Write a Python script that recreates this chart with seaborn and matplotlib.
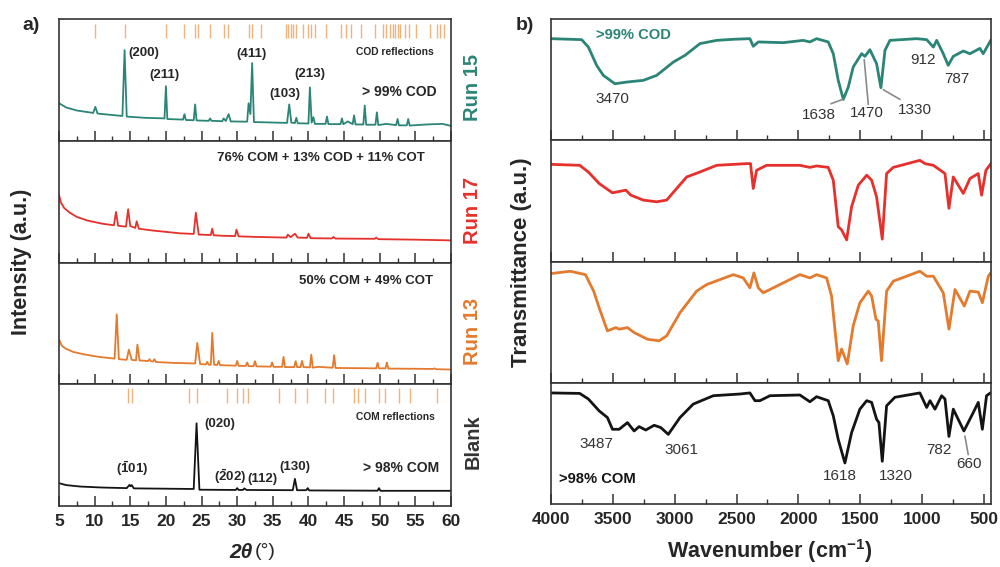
import numpy as np
import pandas as pd
import matplotlib
matplotlib.use("Agg")
import matplotlib.pyplot as plt
import seaborn as sns

# XRD patterns (2theta, intensity in % of panel height)
run15_tt = [5.0, 6.0, 7.5, 9.8, 10.1, 10.4, 13.0, 13.9, 14.2, 14.5, 17.0, 19.8, 20.0, 20.2,
            22.4, 22.6, 22.8, 23.9, 24.1, 24.3, 26.0, 26.2, 26.4, 27.9, 28.1, 28.4, 28.8, 29.1,
            31.4, 31.6, 31.85, 32.1, 32.35, 37.0, 37.3, 37.6, 38.1, 38.3, 38.5, 40.0, 40.2, 40.45,
            40.7, 40.9, 42.4, 42.6, 42.8, 44.5, 44.7, 44.9, 45.5, 46.2, 46.4, 46.6, 47.7, 47.9,
            48.1, 49.4, 49.6, 49.8, 50.9, 52.3, 52.5, 52.7, 53.8, 54.0, 54.2, 56.5, 58.8, 60.0]
run15_int = [31, 27.5, 25, 23, 28, 22.5, 21, 20.5, 74.6, 20, 19, 18.5, 45, 18,
             17.5, 22, 17.2, 17, 30, 16.8, 16.5, 18.5, 16.5, 16.2, 18.5, 16.4, 22, 16,
             15.8, 31, 22, 64, 15.5, 14.8, 30, 15, 14.7, 19, 14.5, 14.3, 44, 15,
             19.5, 14, 14, 20, 13.8, 13.8, 18.5, 13.7, 16, 13.8, 21, 13.5, 13.5, 29,
             13.3, 13.3, 23.5, 13, 14, 13, 18, 12.8, 12.8, 18, 12.6, 13.5, 14, 12.3]

run17_tt = [5.0, 5.3, 5.7, 6.5, 7.5, 9.0, 11.0, 12.7, 13.0, 13.3, 14.4, 14.7, 15.0, 15.7, 15.9,
            16.2, 18.0, 20.0, 22.0, 23.9, 24.2, 24.6, 26.3, 26.5, 26.7, 28.0, 29.7, 29.9, 30.2,
            33.0, 36.9, 37.1, 37.5, 38.1, 38.5, 39.8, 40.0, 40.3, 43.3, 43.5, 43.8, 49.3, 49.5,
            49.8, 55.0, 60.0]
run17_int = [55.4, 49, 45, 41, 37.5, 34.5, 32, 30.6, 41.6, 30.2, 29.5, 43.8, 30, 28.5, 33.9,
             27.8, 26.4, 25.2, 24, 23.5, 41, 23, 22.6, 27.8, 22.4, 22, 21.7, 27, 21.5,
             21, 20.5, 22.9, 20.8, 23.7, 20.5, 20.3, 23.7, 20, 19.8, 21, 19.7, 19.5, 20.5,
             19.2, 18.8, 18.2]

run13_tt = [5.0, 5.4, 6.0, 7.0, 8.5, 10.5, 12.8, 13.1, 13.4, 14.5, 14.8, 15.2, 15.8, 16.0, 16.3,
            17.5, 17.7, 17.9, 18.2, 18.4, 18.6, 21.0, 24.1, 24.4, 24.8, 25.6, 25.8, 26.0, 26.3,
            26.5, 26.75, 27.2, 27.4, 27.6, 29.8, 30.0, 30.2, 31.2, 31.4, 31.6, 32.3, 32.5, 32.7,
            34.7, 34.9, 35.1, 36.3, 36.5, 36.7, 38.0, 38.2, 38.4, 38.9, 39.1, 39.3, 40.2, 40.4,
            40.6, 41.4, 43.4, 43.6, 43.8, 49.5, 49.7, 49.9, 50.8, 51.0, 51.2, 57.5, 57.7, 57.9, 60.0]
run13_int = [36.6, 31.5, 29, 26.5, 24.5, 22.5, 21, 57.4, 20.5, 20, 28.4, 20, 19.5, 32.5, 19.5,
             19, 20.5, 18.8, 18.6, 20.5, 18.2, 17.5, 17, 33.9, 16.5, 16.2, 18.3, 16, 16,
             42.1, 16, 15.8, 19.1, 15.6, 15.2, 19.1, 15, 15, 17.8, 14.8, 14.8, 18.9, 14.6,
             14.4, 17.8, 14.2, 14.2, 22.4, 14, 14, 18.9, 14, 14, 19.1, 14, 13.8, 24.3,
             13.6, 14.2, 13.5, 23.8, 13.3, 13, 17.5, 13, 13, 17.8, 12.8, 12.5, 13, 12.3, 12]

blank_tt = [5.0, 6.0, 8.0, 11.0, 14.5, 14.9, 15.05, 15.2, 15.5, 23.9, 24.3, 24.7, 29.8, 30.0,
            30.2, 30.8, 31.0, 31.3, 37.8, 38.1, 38.4, 39.7, 39.9, 40.1, 49.7, 49.9, 50.1, 60.0]
blank_int = [18.6, 17, 15.8, 15, 14.5, 17.2, 16, 17, 14.3, 13.8, 67.8, 13.2, 13, 14.5,
             13, 13, 14.3, 13, 12.8, 22.1, 12.8, 12.8, 14.5, 12.6, 12.4, 14.5, 12.3, 12.3]

cod_refl = [10.1, 14.2, 20.0, 22.6, 24.1, 24.5, 26.2, 28.2, 28.7, 31.7, 32.1, 33.3, 36.9, 37.2,
            37.5, 37.8, 38.2, 39.2, 39.9, 40.4, 40.9, 42.5, 44.6, 45.3, 46.0, 47.4, 49.3, 50.5,
            50.9, 51.4, 51.8, 52.1, 52.5, 52.8, 53.5, 54.1, 55.1, 57.0, 58.1, 58.5, 59.0]
com_refl = [14.7, 15.2, 23.3, 24.3, 28.6, 30.0, 30.8, 31.5, 35.9, 38.1, 39.8, 42.3, 43.5, 46.4,
            46.9, 48.0, 49.9, 50.8, 52.7, 54.2, 58.1]

# FTIR spectra (wavenumber, transmittance in % of panel height)
ir15_wn = [4000, 3752, 3698, 3631, 3577, 3483, 3388, 3254, 3146, 3011, 2917, 2796, 2661, 2526,
           2392, 2365, 2324, 2122, 1961, 1907, 1853, 1759, 1718, 1678, 1637, 1597, 1557, 1489,
           1462, 1422, 1368, 1333, 1300, 1260, 1044, 963, 909, 882, 829, 789, 748, 667, 613,
           533, 506, 443]
ir15_t = [84, 83.2, 77.1, 62, 53.7, 46.8, 48.2, 49.6, 53.7, 64.7, 70.2, 79.9, 82.6, 83.5,
          84, 77.7, 81.3, 80.7, 82.6, 81.3, 84, 81.3, 71.6, 49.6, 33.9, 44, 60.6, 71.6,
          69.4, 74.9, 63.4, 43.5, 74.4, 82.6, 84, 83.2, 77.1, 82.6, 71.6, 62, 69.4, 73.8, 71.6,
          76, 71.6, 83]

ir17_wn = [4000, 3768, 3698, 3611, 3503, 3395, 3355, 3254, 3146, 3065, 2984, 2903, 2796, 2661,
           2419, 2387, 2365, 2338, 2257, 1988, 1907, 1853, 1759, 1718, 1678, 1651, 1610, 1570,
           1516, 1448, 1408, 1368, 1322, 1287, 1233, 1018, 977, 909, 815, 783, 748, 667, 613,
           546, 519, 484, 443]
ir17_t = [80.3, 79.5, 74, 64.5, 56.8, 59, 54.9, 50.8, 49.4, 50.8, 60.4, 69.9, 74, 79.5,
          80.9, 80.9, 60.4, 75.4, 79.5, 79.5, 77.8, 79, 77.8, 67.2, 28.9, 26.2, 18, 45.3,
          63.1, 71.3, 67.2, 53.5, 18.6, 72.7, 77.8, 83.6, 80.9, 79.5, 72.7, 44, 69.9, 56.3, 68.6,
          72.7, 54.9, 75.4, 81]

ir13_wn = [4000, 3844, 3722, 3655, 3611, 3544, 3476, 3449, 3382, 3328, 3220, 3126, 3065, 2957,
           2823, 2742, 2526, 2446, 2392, 2360, 2324, 2284, 1988, 1907, 1853, 1772, 1732, 1705,
           1678, 1651, 1605, 1557, 1503, 1435, 1408, 1373, 1355, 1328, 1287, 1233, 1018, 963,
           909, 829, 783, 734, 659, 613, 546, 513, 465, 443]
ir13_t = [90.2, 92.1, 89.3, 75.7, 62, 42.9, 45.6, 44.3, 45.6, 41.5, 36, 34.7, 38.8, 57.9,
          75.7, 81.1, 89.3, 86.6, 78.4, 90.7, 78.4, 74.3, 89.3, 86.6, 89.3, 86.6, 71.6, 44.3,
          18.3, 27.9, 15.6, 47, 66.1, 75.7, 71.6, 52.5, 51.1, 18.3, 75.7, 83.9, 92.1, 88,
          88, 74.3, 44.3, 77, 63.4, 75.7, 74.9, 66.1, 88, 91]

irbl_wn = [4000, 3768, 3698, 3611, 3544, 3503, 3449, 3382, 3328, 3288, 3234, 3166, 3112, 3052,
           2957, 2850, 2688, 2473, 2392, 2351, 2311, 2230, 1988, 1907, 1853, 1759, 1718, 1678,
           1624, 1570, 1503, 1448, 1408, 1368, 1349, 1322, 1287, 1220, 1018, 963, 936, 896,
           842, 815, 783, 748, 662, 586, 546, 513, 479, 443]
irbl_t = [91.7, 91.3, 86.7, 76.9, 71.4, 61.7, 61.7, 67.2, 60.3, 63.9, 61.1, 65, 63.1, 57.5,
          71.4, 82.5, 89.4, 90.8, 91.7, 85.3, 85.3, 89.4, 90, 84.4, 88.6, 85.3, 72.8, 53.3,
          33.9, 58.9, 78.3, 85.3, 83.9, 70, 67.2, 35.3, 81.1, 88.1, 91.7, 79.7, 85.3, 78.3,
          89.4, 86.7, 55.8, 78.3, 60.3, 75.6, 83.9, 61.7, 89.4, 92]

run_names = ["Run 15", "Run 17", "Run 13", "Blank"]
colors = ["#2b8577", "#e6302b", "#e47a2e", "#141414"]
name_colors = ["#2b8577", "#e6302b", "#e47a2e", "#333333"]
xrd_notes = ["> 99% COD", "76% COM + 13% COD + 11% COT", "50% COM + 49% COT", "> 98% COM"]

sns.set_theme(style="white")
plt.rcParams["font.family"] = ["Liberation Sans", "DejaVu Sans"]
plt.rcParams["mathtext.fontset"] = "custom"
plt.rcParams["mathtext.rm"] = "Liberation Sans"
plt.rcParams["mathtext.bf"] = "Liberation Sans:bold"
plt.rcParams["mathtext.it"] = "Liberation Sans:italic"

fig = plt.figure(figsize=(10, 5.67), dpi=100)
gl = fig.add_gridspec(4, 1, left=0.059, right=0.451, top=0.966, bottom=0.108, hspace=0)
gr = fig.add_gridspec(4, 1, left=0.551, right=0.991, top=0.966, bottom=0.111, hspace=0)
axl = [fig.add_subplot(gl[i]) for i in range(4)]
axr = [fig.add_subplot(gr[i]) for i in range(4)]

xrd = [(run15_tt, run15_int), (run17_tt, run17_int), (run13_tt, run13_int), (blank_tt, blank_int)]
ftir = [(ir15_wn, ir15_t), (ir17_wn, ir17_t), (ir13_wn, ir13_t), (irbl_wn, irbl_t)]


def style_axis(ax, major, minor, last):
    for s in ax.spines.values():
        s.set_color("#333333")
        s.set_linewidth(1.2)
    ax.set_ylim(0, 100)
    ax.set_yticks([])
    ax.set_ylabel("")
    ax.set_xlabel("")
    ax.xaxis.set_major_locator(matplotlib.ticker.MultipleLocator(major))
    ax.xaxis.set_minor_locator(matplotlib.ticker.MultipleLocator(minor))
    ax.tick_params(axis="x", which="major", direction="in", length=7, width=1.1,
                   color="#333333", bottom=True, top=False, labelsize=12.5, pad=6)
    ax.tick_params(axis="x", which="minor", direction="in", length=3.5, width=1.0,
                   color="#333333", bottom=True, top=False)
    if not last:
        ax.tick_params(axis="x", labelbottom=False)
    else:
        for lab in ax.get_xticklabels():
            lab.set_fontweight("bold")


# left: XRD
for i, ax in enumerate(axl):
    tt, inten = xrd[i]
    df = pd.DataFrame({"tt": tt, "I": inten})
    sns.lineplot(data=df, x="tt", y="I", ax=ax, color=colors[i], lw=1.3,
                 sort=False, estimator=None)
    ax.set_xlim(5, 60)
    ax.set_xticks(np.arange(5, 61, 5))
    style_axis(ax, 5, 2.5, i == 3)

ax = axl[0]
ax.vlines(cod_refl, 84.5, 96.5, color="#f2b27e", lw=1.0)
ax.text(16.9, 72, "(200)", fontsize=9.5, fontweight="bold", ha="center", va="center")
ax.text(19.8, 54, "(211)", fontsize=9.5, fontweight="bold", ha="center", va="center")
ax.text(32.0, 71.3, "(411)", fontsize=9.5, fontweight="bold", ha="center", va="center")
ax.text(36.7, 38.5, "(103)", fontsize=9.5, fontweight="bold", ha="center", va="center")
ax.text(40.2, 55, "(213)", fontsize=9.5, fontweight="bold", ha="center", va="center")
ax.text(52.1, 72.7, "COD reflections", fontsize=7.4, fontweight="bold", ha="center", va="center")
ax.text(52.8, 40, xrd_notes[0], fontsize=10, fontweight="bold", ha="center", va="center")
axl[1].text(41.8, 85.7, xrd_notes[1], fontsize=9.5, fontweight="bold", ha="center", va="center")
axl[2].text(48.1, 85.2, xrd_notes[2], fontsize=9.5, fontweight="bold", ha="center", va="center")

ax = axl[3]
ax.vlines(com_refl, 84.5, 96.5, color="#f2b27e", lw=1.0)
ax.text(52.2, 73.2, "COM reflections", fontsize=7.4, fontweight="bold", ha="center", va="center")
ax.text(27.5, 67.2, "(020)", fontsize=9.5, fontweight="bold", ha="center", va="center")
ax.text(15.2, 30.9, r"$\mathbf{(\bar{1}01)}$", fontsize=9.5, ha="center", va="center")
ax.text(29.0, 24, r"$\mathbf{(\bar{2}02)}$", fontsize=9.5, ha="center", va="center")
ax.text(33.5, 21.9, "(112)", fontsize=9.5, fontweight="bold", ha="center", va="center")
ax.text(38.1, 32.2, "(130)", fontsize=9.5, fontweight="bold", ha="center", va="center")
ax.text(53.0, 30.9, xrd_notes[3], fontsize=10, fontweight="bold", ha="center", va="center")

# right: FTIR
for i, ax in enumerate(axr):
    wn, tr = ftir[i]
    df = pd.DataFrame({"wn": wn, "T": tr})
    sns.lineplot(data=df, x="wn", y="T", ax=ax, color=colors[i], lw=2.0,
                 sort=False, estimator=None, solid_joinstyle="round")
    ax.set_xlim(4000, 443)
    ax.set_xticks(np.arange(4000, 499, -500))
    style_axis(ax, 500, 250, i == 3)

grey = "#333333"
lead = "#8a8a8a"
ax = axr[0]
ax.text(3335, 87.4, ">99% COD", color=colors[0], fontsize=10.6, fontweight="bold", ha="center", va="center")
ax.text(3501, 33.9, "3470", color=grey, fontsize=11, ha="center", va="center")
ax.text(1831, 20.7, "1638", color=grey, fontsize=11, ha="center", va="center")
ax.text(1448, 22.6, "1470", color=grey, fontsize=11, ha="center", va="center")
ax.text(1058, 25.4, "1330", color=grey, fontsize=11, ha="center", va="center")
ax.text(991, 66.1, "912", color=grey, fontsize=11, ha="center", va="center")
ax.text(721, 51, "787", color=grey, fontsize=11, ha="center", va="center")
ax.annotate("", xy=(1642, 33.9), xytext=(1737, 30.3),
            arrowprops=dict(arrowstyle="-", color=lead, lw=1.2, shrinkA=0, shrinkB=0))
ax.annotate("", xy=(1468, 66.7), xytext=(1435, 29.8),
            arrowprops=dict(arrowstyle="-", color=lead, lw=1.2, shrinkA=0, shrinkB=0))
ax.annotate("", xy=(1314, 41.9), xytext=(1179, 33.9),
            arrowprops=dict(arrowstyle="-", color=lead, lw=1.2, shrinkA=0, shrinkB=0))

ax = axr[3]
ax.text(3623, 20.6, ">98% COM", color="#141414", fontsize=10.6, fontweight="bold", ha="center", va="center")
ax.text(3631, 49.2, "3487", color=grey, fontsize=11, ha="center", va="center")
ax.text(2949, 45, "3061", color=grey, fontsize=11, ha="center", va="center")
ax.text(1664, 22.8, "1618", color=grey, fontsize=11, ha="center", va="center")
ax.text(1211, 22.8, "1320", color=grey, fontsize=11, ha="center", va="center")
ax.text(861, 44.4, "782", color=grey, fontsize=11, ha="center", va="center")
ax.text(619, 33.3, "660", color=grey, fontsize=11, ha="center", va="center")
ax.annotate("", xy=(654, 56.1), xytext=(627, 40.8),
            arrowprops=dict(arrowstyle="-", color=lead, lw=1.2, shrinkA=0, shrinkB=0))

# sample names between the two columns
name_y = [87.5, 210, 331, 442]
for i in range(4):
    fig.text(0.473, 1 - name_y[i] / 567, run_names[i], rotation=90, color=name_colors[i],
             fontsize=14.5, fontweight="bold", ha="center", va="center")

fig.text(0.031, 1 - 25 / 567, "a)", fontsize=14, fontweight="bold", ha="center", va="center")
fig.text(0.525, 1 - 25 / 567, "b)", fontsize=14, fontweight="bold", ha="center", va="center")
fig.text(0.022, 1 - 262 / 567, "Intensity (a.u.)", rotation=90, fontsize=15.5,
         fontweight="bold", ha="center", va="center")
fig.text(0.521, 1 - 262 / 567, "Transmittance (a.u.)", rotation=90, fontsize=16,
         fontweight="bold", ha="center", va="center")
fig.text(0.253, 1 - 552 / 567, "2θ", fontsize=15, fontweight="bold", style="italic",
         ha="right", va="center")
fig.text(0.255, 1 - 552 / 567, "(°)", fontsize=14, ha="left", va="center")
fig.text(0.770, 1 - 551 / 567, r"Wavenumber (cm$^{\mathbf{-1}}$)", fontsize=15.5,
         fontweight="bold", ha="center", va="center")

fig.savefig("out.png", dpi=100, facecolor="white")
